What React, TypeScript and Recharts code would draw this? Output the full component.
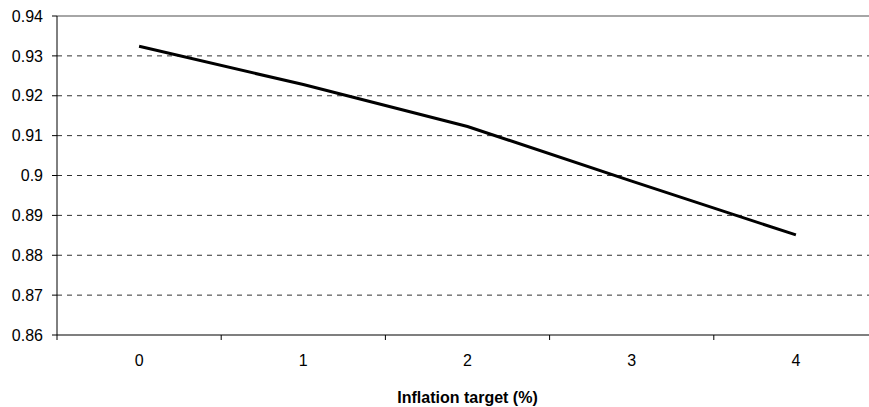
import React from 'react';
import { LineChart, Line, XAxis, YAxis, CartesianGrid, ReferenceLine, Label } from 'recharts';

// inflation target (%) categories and the plotted values
const TARGETS = [0, 1, 2, 3, 4];
const VALUES = [0.9324, 0.9228, 0.9123, 0.8986, 0.8851];
const Y_TICKS = [0.86, 0.87, 0.88, 0.89, 0.9, 0.91, 0.92, 0.93, 0.94];
const GRID_VALUES = [0.87, 0.88, 0.89, 0.9, 0.91, 0.92, 0.93];
const BAND_EDGES = [-0.5, 0.5, 1.5, 2.5, 3.5, 4.5];
const X_TITLE = 'Inflation target (%)';

const data = TARGETS.map((t, i) => ({ x: t, v: VALUES[i] }));
// the x axis carries both the band edges (tick marks) and the centres (labels)
const X_TICKS = [...BAND_EDGES, ...TARGETS].sort((a, b) => a - b);

const font = { fontFamily: '"Liberation Sans", Arial, sans-serif', fontSize: 16, fill: '#000' };

const XTick = (props: any) => {
  const { x, y, payload } = props;
  const v = payload.value as number;
  if (!Number.isInteger(v)) {
    return <line x1={x} x2={x} y1={y} y2={y + 5} stroke="#000" />;
  }
  return (
    <text x={x} y={y + 31} textAnchor="middle" style={font}>
      {v}
    </text>
  );
};

export default function App() {
  return (
    <div style={{ position: 'absolute', left: 0, top: 0, width: 869, height: 407, overflow: 'hidden', background: '#fff' }}>
      <LineChart width={880} height={407} data={data} margin={{ top: 16, right: 2, bottom: 0, left: 0 }}>
        <CartesianGrid
          horizontal
          vertical={false}
          horizontalValues={GRID_VALUES}
          stroke="#333"
          strokeDasharray="5 5"
        />
        <ReferenceLine y={0.94} stroke="#888" strokeWidth={1.5} ifOverflow="extendDomain" />
        <XAxis
          dataKey="x"
          type="number"
          domain={[-0.5, 4.5]}
          ticks={X_TICKS}
          interval={0}
          tick={<XTick />}
          tickSize={0}
          tickMargin={0}
          tickLine={false}
          height={72}
          axisLine={{ stroke: '#555', strokeWidth: 1.5 }}
          allowDataOverflow
        >
          <Label
            value={X_TITLE}
            position="insideBottom"
            offset={4.5}
            style={{ ...font, fontWeight: 'bold' }}
          />
        </XAxis>
        <YAxis
          type="number"
          domain={[0.86, 0.94]}
          ticks={Y_TICKS}
          width={57}
          tickSize={5}
          tickMargin={9}
          tick={font}
          tickFormatter={(v: number) => String(Number(v.toFixed(2)))}
          axisLine={{ stroke: '#000' }}
          tickLine={{ stroke: '#000' }}
          allowDataOverflow
        />
        <Line
          type="linear"
          dataKey="v"
          stroke="#000"
          strokeWidth={3}
          dot={false}
          activeDot={false}
          isAnimationActive={false}
        />
      </LineChart>
    </div>
  );
}
